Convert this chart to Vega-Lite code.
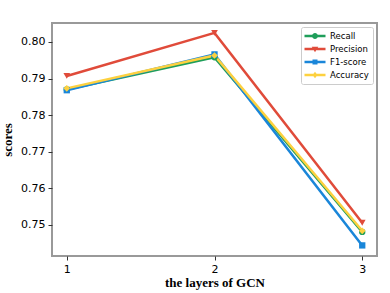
{
  "$schema": "https://vega.github.io/schema/vega-lite/v6.json",
  "width": 325,
  "height": 233,
  "autosize": "none",
  "padding": {"left": 52, "top": 23, "right": 13, "bottom": 37},
  "background": "white",
  "config": {
    "view": {"stroke": "#999999", "strokeWidth": 2},
    "axis": {"grid": false, "domain": false, "tickColor": "#333", "tickSize": 4, "labelFont": "DejaVu Sans", "labelFontSize": 11, "labelColor": "#000", "titleFont": "Liberation Serif", "titleFontSize": 13, "titleFontWeight": "bold", "titleColor": "#000"}
  },
  "data": {"values": [
    {"layer": 1, "metric": "Recall", "score": 0.7870},
    {"layer": 2, "metric": "Recall", "score": 0.7958},
    {"layer": 3, "metric": "Recall", "score": 0.7480},
    {"layer": 1, "metric": "Precision", "score": 0.7907},
    {"layer": 2, "metric": "Precision", "score": 0.8025},
    {"layer": 3, "metric": "Precision", "score": 0.7505},
    {"layer": 1, "metric": "F1-score", "score": 0.7868},
    {"layer": 2, "metric": "F1-score", "score": 0.7966},
    {"layer": 3, "metric": "F1-score", "score": 0.7443},
    {"layer": 1, "metric": "Accuracy", "score": 0.7873},
    {"layer": 2, "metric": "Accuracy", "score": 0.7963},
    {"layer": 3, "metric": "Accuracy", "score": 0.7483}
  ]},
  "encoding": {
    "x": {"field": "layer", "type": "quantitative", "title": "the layers of GCN",
      "scale": {"domain": [0.9, 3.1], "nice": false, "zero": false},
      "axis": {"values": [1, 2, 3], "format": "d", "labelPadding": 3, "titlePadding": 2}},
    "y": {"field": "score", "type": "quantitative", "title": "scores",
      "scale": {"domain": [0.7414, 0.8052], "nice": false, "zero": false},
      "axis": {"values": [0.75, 0.76, 0.77, 0.78, 0.79, 0.8], "format": ".2f", "labelPadding": 3, "titlePadding": 6}},
    "color": {"field": "metric", "type": "nominal",
      "scale": {"domain": ["Recall", "Precision", "F1-score", "Accuracy"], "range": ["#1f9e5a", "#e04b3a", "#1a86d9", "#fdd13f"]},
      "legend": null}
  },
  "layer": [
    {"mark": {"type": "line", "strokeWidth": 2.5},
     "encoding": {"color": {"field": "metric", "type": "nominal",
        "legend": {"title": null, "orient": "top-right", "offset": 4, "fillColor": "white", "strokeColor": "#cccccc", "cornerRadius": 2, "padding": 4,
          "labelFont": "DejaVu Sans", "labelFontSize": 8.5, "labelColor": "#000", "labelOffset": 15, "symbolSize": 100, "rowPadding": 3,
          "symbolStrokeWidth": 0, "symbolType": "circle",
          "encode": {"symbols": {"update": {
            "shape": {"signal": "datum.value == 'Recall' ? 'M-1.1,-0.25H3.1V0.25H-1.1Z M1.6,0A0.6,0.6 0 1,1 0.4,0A0.6,0.6 0 1,1 1.6,0Z' : datum.value == 'Precision' ? 'M-1.1,-0.25H3.1V0.25H-1.1Z M0.35,-0.45L1.65,-0.45L1,0.65Z' : datum.value == 'F1-score' ? 'M-1.1,-0.25H3.1V0.25H-1.1Z M0.5,-0.5H1.5V0.5H0.5Z' : 'M-1.1,-0.25H3.1V0.25H-1.1Z M1,-0.65L1.5,0L1,0.65L0.5,0Z'"},
            "fill": {"signal": "scale('color', datum.value)"},
            "fillOpacity": {"value": 1},
            "strokeWidth": {"value": 0}
          }}}}}}},
    {"transform": [{"filter": "datum.metric == 'Recall'"}],
     "mark": {"type": "point", "filled": true, "opacity": 1, "size": 40, "shape": "circle"}},
    {"transform": [{"filter": "datum.metric == 'Precision'"}],
     "mark": {"type": "point", "filled": true, "opacity": 1, "size": 45, "shape": "triangle-down"}},
    {"transform": [{"filter": "datum.metric == 'F1-score'"}],
     "mark": {"type": "point", "filled": true, "opacity": 1, "size": 40, "shape": "square"}},
    {"transform": [{"filter": "datum.metric == 'Accuracy'"}],
     "mark": {"type": "point", "filled": true, "opacity": 1, "size": 45, "shape": "diamond"}}
  ]
}
